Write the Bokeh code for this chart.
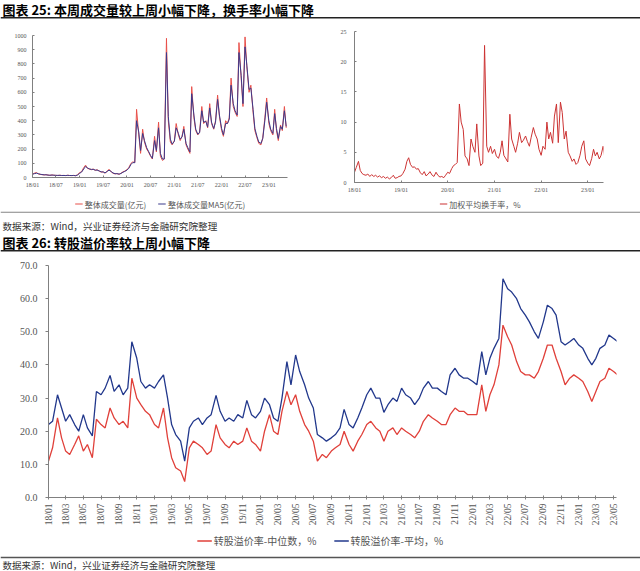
import numpy as np
import pandas as pd
from bokeh.plotting import figure
from bokeh.layouts import column, row
from bokeh.models import (Range1d, Span, Label, Legend, LegendItem, FixedTicker,
                          DatetimeTickFormatter, PrintfTickFormatter)
from bokeh.embed import file_html
from bokeh.resources import INLINE

# ---------------- data (semi-monthly readings, 2018-01 .. 2023-05) ----------------
dates = pd.date_range("2018-01-01", periods=130, freq="SMS")

# 整体成交量(亿元)
volume = [24, 30, 35, 25, 22, 20, 18, 20, 17, 15, 18, 16, 15, 14, 16, 14, 15, 13, 16, 14, 13, 15, 12, 20,
          35, 40, 70, 87, 65, 60, 55, 60, 50, 55, 45, 38, 40, 30, 45, 58, 40, 30, 25, 28, 22, 30, 40, 45,
          55, 70, 100, 110, 105, 480, 300, 170, 340, 250, 200, 180, 150, 130, 290, 180, 390, 150, 120, 130, 980, 400, 250, 230,
          260, 380, 300, 260, 290, 360, 230, 200, 170, 640, 420, 330, 300, 320, 500, 380, 400, 350, 520, 380, 340, 400, 580, 430,
          330, 290, 400, 380, 420, 700, 500, 460, 430, 950, 700, 500, 990, 780, 600, 650, 460, 330, 280, 240, 230, 280, 420, 560,
          380, 330, 300, 480, 330, 260, 370, 330, 500, 350]
# 整体成交量MA5(亿元)
volume_ma5 = [22, 27, 30, 27, 23, 21, 19, 19, 17, 16, 17, 16, 15, 15, 15, 14, 14, 14, 15, 14, 14, 14, 13, 17,
              30, 38, 60, 78, 68, 61, 57, 57, 52, 52, 46, 40, 39, 33, 42, 52, 42, 32, 27, 27, 24, 28, 37, 43,
              52, 65, 92, 105, 104, 400, 320, 190, 310, 260, 210, 185, 155, 135, 260, 190, 350, 170, 130, 130, 880, 430, 270, 235,
              255, 350, 310, 270, 285, 340, 240, 210, 180, 590, 440, 340, 305, 315, 470, 390, 395, 355, 490, 390, 345, 390, 550, 440,
              345, 300, 380, 380, 410, 650, 520, 470, 440, 880, 720, 520, 920, 790, 620, 630, 480, 345, 290, 250, 240, 275, 400, 530,
              400, 340, 310, 450, 345, 275, 360, 340, 470, 360]
# 加权平均换手率，%
turnover = [1.7, 2.5, 3.5, 2.0, 1.5, 1.3, 1.2, 1.4, 1.0, 1.3, 1.0, 1.2, 0.9, 1.1, 0.8, 1.0, 0.7, 0.9, 0.6, 0.8, 1.2, 0.7, 0.8, 1.0,
            1.1, 1.5, 2.2, 3.5, 4.1, 3.0, 2.5, 2.6, 2.2, 2.3, 1.6, 1.3, 1.8, 1.1, 1.4, 1.8, 1.2, 1.0, 1.7, 1.2, 0.9, 1.0, 0.8, 1.2,
            1.7, 1.5, 2.3, 2.8, 3.0, 3.3, 13.0, 10.0, 8.8, 4.4, 3.9, 2.8, 7.2, 6.0, 5.0, 9.7, 4.4, 2.8, 3.2, 22.7, 6.0, 5.0, 6.0, 4.8,
            5.5, 4.4, 4.0, 5.0, 6.9, 4.5, 3.9, 3.4, 11.3, 7.2, 6.0, 5.0, 6.5, 8.3, 6.6, 7.0, 7.7, 6.8, 6.0, 7.5, 9.1, 8.0, 7.2, 5.5,
            4.5, 6.0, 5.5, 10.0, 7.2, 8.3, 6.5, 11.0, 13.0, 6.6, 13.3, 11.6, 7.2, 8.5, 5.0, 4.4, 3.5, 3.9, 3.0, 3.3, 4.5, 6.0, 6.9, 3.9,
            3.2, 2.8, 4.0, 5.5, 4.4, 5.0, 3.9, 4.5, 6.0, 4.0]
# 转股溢价率-中位数，%
premium_median = [11, 15, 24, 18, 14, 13, 16, 18.6, 14, 16, 12, 23.6, 22, 21, 27, 24, 22, 23, 21, 36, 30, 28, 26, 25,
                  22, 21, 27, 18, 12, 9, 8, 4.8, 15, 17, 16, 15, 13, 14, 22, 18, 16, 15, 17, 16, 17, 21, 17, 16,
                  14, 20, 25, 20, 19, 26, 32, 28, 31, 26, 22, 20, 17, 11, 13, 12, 14, 15, 16, 20, 16, 14, 17, 19,
                  22, 23, 21, 20, 17, 20, 21, 19, 21, 20, 19, 18, 20, 23, 25, 24, 23, 22, 22, 25, 27, 26, 26, 25,
                  25, 25, 34, 26, 31, 34, 40, 52, 48.5, 46, 41, 38, 37, 37, 36, 38, 42, 46, 46, 42, 38, 34, 36, 37,
                  36, 35, 32, 29, 32, 35, 36, 39, 38, 37]
# 转股溢价率-平均，%
premium_mean = [22, 23, 31, 27, 23, 25, 22, 20, 25, 21, 18.6, 32, 31, 33, 36.8, 32, 34, 31, 33, 47, 42, 35, 33, 34,
                33, 35, 37, 30, 22, 19, 17, 11, 21, 23, 24, 22, 24, 25, 30.8, 26, 23, 24, 23, 25, 24, 29.3, 25, 24,
                26, 30, 28, 24, 23, 30, 41, 34, 43, 38, 34, 30, 27, 19, 18, 17, 18, 19, 21, 26.6, 22, 21, 24, 27,
                31, 33, 30, 30, 25.7, 28, 30, 29, 33, 31, 30, 28, 30, 33, 35, 33, 33, 32, 31, 37, 39, 37, 36, 36,
                35, 34, 44, 37, 42, 45, 48, 66, 63, 62, 60, 57, 55, 53, 50, 48, 53, 58, 57, 55, 47, 46, 47, 48,
                46, 45, 42, 40, 42, 45, 46, 49, 48, 47]

vol_ticks_y = [0, 100, 200, 300, 400, 500, 600, 700, 800, 900, 1000]
vol_ticks_x = ["18/01", "18/07", "19/01", "19/07", "20/01", "20/07", "21/01", "21/07", "22/01", "22/07", "23/01"]
turn_ticks_y = [0, 5, 10, 15, 20, 25]
turn_ticks_x = ["18/01", "19/01", "20/01", "21/01", "22/01", "23/01"]
prem_ticks_y = [0, 10, 20, 30, 40, 50, 60, 70]
prem_ticks_x = ["18/01", "18/03", "18/05", "18/07", "18/09", "18/11", "19/01", "19/03", "19/05", "19/07",
                "19/09", "19/11", "20/01", "20/03", "20/05", "20/07", "20/09", "20/11", "21/01", "21/03",
                "21/05", "21/07", "21/09", "21/11", "22/01", "22/03", "22/05", "22/07", "22/09", "22/11",
                "23/01", "23/03", "23/05"]

title25 = "图表 25:  本周成交量较上周小幅下降，换手率小幅下降"
title26 = "图表 26:  转股溢价率较上周小幅下降"
source = "数据来源：Wind，兴业证券经济与金融研究院整理"
name_vol = "整体成交量(亿元)"
name_ma5 = "整体成交量MA5(亿元)"
name_turn = "加权平均换手率，%"
name_med = "转股溢价率-中位数，%"
name_avg = "转股溢价率-平均，%"

RED = "#E0403A"
NAVY = "#22388C"
VOL_RED = "#E8504A"
VOL_NAVY = "#3A3A8C"
TURN_RED = "#CC3333"
GREY = "#808080"
CJK = "Noto Sans CJK SC"
SERIF = "Liberation Serif"


def tick_ms(labels):
    return [pd.Timestamp(f"20{s[:2]}-{s[3:]}-01").value / 1e6 for s in labels]


def fmt_all(fmt):
    return DatetimeTickFormatter(microseconds=fmt, milliseconds=fmt, seconds=fmt, minsec=fmt,
                                 minutes=fmt, hourmin=fmt, hours=fmt, days=fmt, months=fmt, years=fmt)


def band(h, w=640):
    f = figure(width=w, height=h, x_range=Range1d(0, w), y_range=Range1d(h, 0),
               output_backend="svg", toolbar_location=None, min_border=0,
               x_axis_location=None, y_axis_location=None, frame_align=False)
    f.grid.visible = False
    f.outline_line_color = None
    return f


def style_axes(p, tick_font):
    for ax in [p.xaxis[0], p.yaxis[0]]:
        ax.axis_line_color = GREY
        ax.major_tick_line_color = GREY
        ax.minor_tick_line_color = None
        ax.major_label_text_font = SERIF
        ax.major_label_text_font_size = tick_font
        ax.major_label_text_color = "#555555"
    p.grid.grid_line_color = None
    p.outline_line_color = None


def legend_band(w, h, entries, font, glyph_w, spacing):
    # legend key renderers hold the real series but stay hidden in this strip
    f = band(h, w)
    items = []
    for name, series, color, lw in entries:
        r = f.line(x=dates, y=series, line_color=color, line_width=lw, visible=False)
        items.append(LegendItem(label=name, renderers=[r]))
    fs = float(font[:-2])
    f.add_layout(Legend(items=items, orientation="horizontal", location="center",
                        label_text_font=CJK, label_text_font_size=font, label_text_color="#555555",
                        glyph_width=glyph_w, glyph_height=int(fs), label_height=int(fs), label_standoff=2,
                        spacing=spacing, padding=0, margin=0, border_line_alpha=0,
                        background_fill_alpha=0))
    return f


# ---------------- header ----------------
header = band(19)
header.add_layout(Label(x=2, y=9, text=title25, text_baseline="middle", text_font=CJK,
                        text_font_size="13px", text_font_style="bold", text_color="#000000"))
header.add_layout(Span(location=17.3, dimension="width", line_color="#222222", line_width=1.5))

# ---------------- left small chart: volume ----------------
pl = figure(width=320, height=177, x_axis_type="datetime",
            x_range=Range1d(pd.Timestamp("2018-01-01"), pd.Timestamp("2023-05-25")),
            y_range=Range1d(0, 1000), output_backend="svg", toolbar_location=None,
            min_border_left=32, min_border_right=33, min_border_top=16, min_border_bottom=19,
            frame_align=False)
pl.line(dates, volume, line_color=VOL_RED, line_width=1.0)
pl.line(dates, volume_ma5, line_color=VOL_NAVY, line_width=1.0)
style_axes(pl, "6px")
pl.yaxis.ticker = FixedTicker(ticks=vol_ticks_y)
pl.xaxis.ticker = FixedTicker(ticks=tick_ms(vol_ticks_x))
pl.xaxis.formatter = fmt_all("%y/%m")
pl.yaxis.major_tick_in = 2
pl.yaxis.major_tick_out = 0
pl.xaxis.major_tick_in = 2
pl.xaxis.major_tick_out = 0
pl.yaxis.major_label_standoff = 6
pl.xaxis.major_label_standoff = 4

# ---------------- right small chart: turnover ----------------
pr = figure(width=320, height=177, x_axis_type="datetime",
            x_range=Range1d(pd.Timestamp("2018-01-01"), pd.Timestamp("2023-05-04")),
            y_range=Range1d(0, 25), output_backend="svg", toolbar_location=None,
            min_border_left=34, min_border_right=37, min_border_top=12, min_border_bottom=14,
            frame_align=False)
pr.line(dates, turnover, line_color=TURN_RED, line_width=1.0)
style_axes(pr, "6px")
pr.yaxis.ticker = FixedTicker(ticks=turn_ticks_y)
pr.xaxis.ticker = FixedTicker(ticks=tick_ms(turn_ticks_x))
pr.xaxis.formatter = fmt_all("%y/%m")
pr.yaxis.major_tick_in = 2
pr.yaxis.major_tick_out = 0
pr.xaxis.major_tick_in = 2
pr.xaxis.major_tick_out = 0
pr.yaxis.major_label_standoff = 8
pr.xaxis.major_label_standoff = 4

leg_l = legend_band(320, 15, [(name_vol, volume, VOL_RED, 1.2), (name_ma5, volume_ma5, VOL_NAVY, 1.2)],
                    "8px", 8, 12)
leg_r = legend_band(320, 15, [(name_turn, turnover, TURN_RED, 1.2)], "8px", 8, 12)

# ---------------- middle band ----------------
mid = band(41)
mid.add_layout(Span(location=0.6, dimension="width", line_color="#666666", line_width=1))
mid.add_layout(Label(x=2, y=14, text=source, text_baseline="middle", text_font=CJK,
                     text_font_size="9.6px", text_color="#333333"))
mid.add_layout(Label(x=2, y=30.5, text=title26, text_baseline="middle", text_font=CJK,
                     text_font_size="13px", text_font_style="bold", text_color="#000000"))
mid.add_layout(Span(location=39.3, dimension="width", line_color="#222222", line_width=1.5))

# ---------------- big chart: conversion premium ----------------
pb = figure(width=640, height=276, x_axis_type="datetime",
            x_range=Range1d(pd.Timestamp("2018-01-01"), pd.Timestamp("2023-05-11")),
            y_range=Range1d(0, 70), output_backend="svg", toolbar_location=None,
            min_border_left=48, min_border_right=24, min_border_top=13, min_border_bottom=29,
            frame_align=False)
pb.line(dates, premium_median, line_color=RED, line_width=1.3)
pb.line(dates, premium_mean, line_color=NAVY, line_width=1.3)
style_axes(pb, "10px")
pb.yaxis.ticker = FixedTicker(ticks=prem_ticks_y)
pb.yaxis.formatter = PrintfTickFormatter(format="%.1f")
pb.yaxis.major_tick_in = 0
pb.yaxis.major_tick_out = 3
pb.yaxis.major_label_standoff = 8
pb.xaxis.ticker = FixedTicker(ticks=tick_ms(prem_ticks_x))
pb.xaxis.formatter = fmt_all("%y/%m")
pb.xaxis.major_label_orientation = np.pi / 2
pb.xaxis.major_label_text_font_size = "9.5px"
pb.xaxis.major_tick_in = 2
pb.xaxis.major_tick_out = 2
pb.xaxis.major_label_standoff = 4

leg_b = legend_band(640, 24, [(name_med, premium_median, RED, 1.3), (name_avg, premium_mean, NAVY, 1.3)],
                    "10px", 15, 17)

# ---------------- footer ----------------
footer = band(19)
footer.add_layout(Span(location=5, dimension="width", line_color="#555555", line_width=1.5))
footer.add_layout(Label(x=2, y=12.3, text=source, text_baseline="middle", text_font=CJK,
                        text_font_size="9.5px", text_color="#333333"))

layout = column(header, row(pl, pr), row(leg_l, leg_r), mid, pb, leg_b, footer)
open("out.html", "w").write(file_html(layout, INLINE))
